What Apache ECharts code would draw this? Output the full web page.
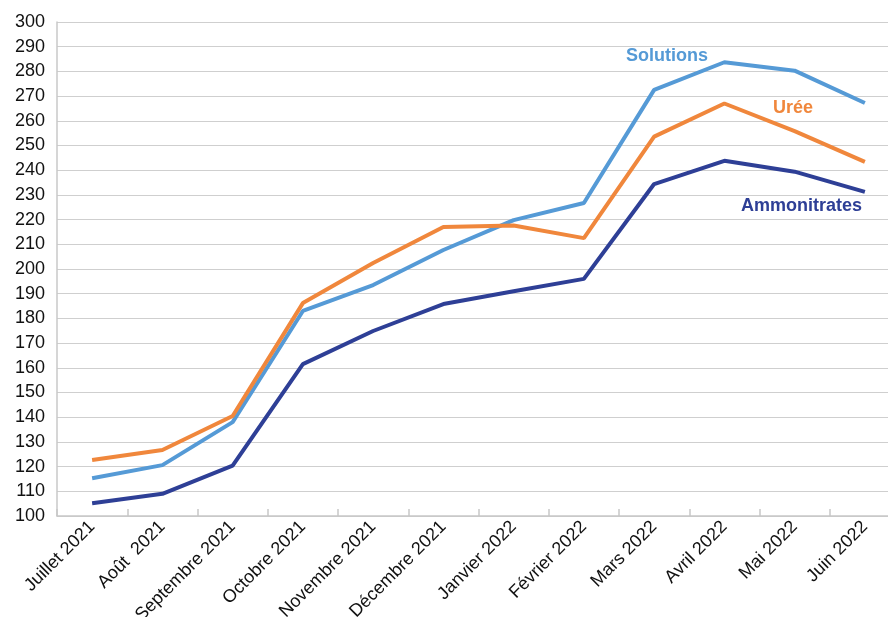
<!DOCTYPE html>
<html>
<head>
<meta charset="utf-8">
<script src="https://cdn.jsdelivr.net/npm/echarts@6/dist/echarts.min.js"></script>
<style>
  html, body { margin: 0; padding: 0; background: #fff; }
  #chartDom { width: 888px; height: 617px; }
</style>
</head>
<body>
<div id="chartDom"></div>
<script>
const months = ['Juillet 2021', 'Août  2021', 'Septembre 2021', 'Octobre 2021', 'Novembre 2021', 'Décembre 2021',
  'Janvier 2022', 'Février 2022', 'Mars 2022', 'Avril 2022', 'Mai 2022', 'Juin 2022'];
const solutions = [115.3, 120.6, 138, 183, 193.5, 207.7, 219.8, 226.7, 272.5, 283.7, 280.3, 267.2];
const uree = [122.7, 126.7, 140.5, 186.2, 202.4, 217, 217.6, 212.5, 253.6, 267, 255.8, 243.4];
const ammonitrates = [105.2, 109, 120.4, 161.5, 174.9, 185.8, 191, 196, 234.4, 243.8, 239.4, 231.2];
const yTicks = [100, 300, 10];

const font = 'Liberation Sans, Arial, sans-serif';

const option = {
  animation: false,
  // plot runs past the right edge of the picture, as in the original
  grid: { left: 57, top: 22, width: 843, height: 494, outerBoundsMode: 'none', containLabel: false },
  xAxis: {
    type: 'category',
    data: months,
    boundaryGap: true,
    axisLine: { lineStyle: { color: '#c8c8c8', width: 1.5 } },
    axisTick: { show: true, inside: true, length: 7, lineStyle: { color: '#c8c8c8', width: 1.5 } },
    axisLabel: { rotate: 45, color: '#111', fontSize: 18, fontFamily: font, margin: 8, interval: 0 }
  },
  yAxis: {
    type: 'value',
    min: yTicks[0],
    max: yTicks[1],
    interval: yTicks[2],
    axisLine: { show: true, lineStyle: { color: '#c8c8c8', width: 1.5 } },
    axisTick: { show: false },
    axisLabel: { color: '#111', fontSize: 18, fontFamily: font, margin: 12 },
    splitLine: { lineStyle: { color: '#cfcfcf', width: 1.2 } }
  },
  series: [
    { name: 'Solutions', type: 'line', data: solutions, symbol: 'none',
      lineStyle: { color: '#559ad6', width: 4 } },
    { name: 'Urée', type: 'line', data: uree, symbol: 'none',
      lineStyle: { color: '#f0873c', width: 4 } },
    { name: 'Ammonitrates', type: 'line', data: ammonitrates, symbol: 'none',
      lineStyle: { color: '#2e3f96', width: 4 } }
  ],
  graphic: [
    { type: 'text', left: 626, top: 47, style: { text: 'Solutions', fill: '#559ad6', font: 'bold 18px ' + font } },
    { type: 'text', left: 773, top: 99, style: { text: 'Urée', fill: '#f0873c', font: 'bold 18px ' + font } },
    { type: 'text', left: 741, top: 197, style: { text: 'Ammonitrates', fill: '#2e3f96', font: 'bold 18px ' + font } }
  ]
};

const myChart = echarts.init(document.getElementById('chartDom'));
myChart.setOption(option);
</script>
</body>
</html>
